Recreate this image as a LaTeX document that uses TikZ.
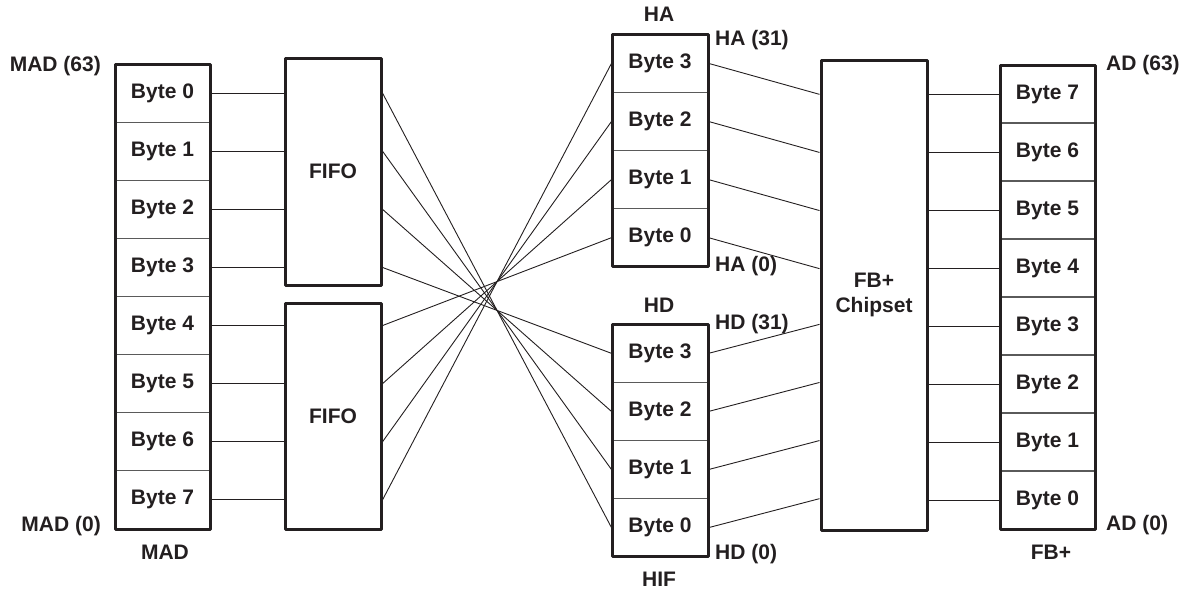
\documentclass[tikz,border=0pt]{standalone}
\usepackage{fontspec}
\setmainfont{Liberation Sans}
\usetikzlibrary{calc}
\definecolor{ink}{RGB}{35,31,32}
\definecolor{divc}{RGB}{90,90,90}
\begin{document}
\begin{tikzpicture}[x=1pt,y=-1pt,
  every node/.style={text=ink,font=\fontsize{21}{24}\selectfont\bfseries,inner sep=0pt},
  cell/.style={draw=divc,line width=1pt,minimum width=95,minimum height=58.1},
  outer/.style={draw=ink,line width=3pt,line join=round},
  wire/.style={draw=ink,line width=0.9pt},
  lbl/.style={}]
\useasboundingbox (0,0) rectangle (1191,592);
% MAD column
\foreach \i in {0,...,7}{
  \node[cell] (m\i) at (162.5,{93.05+58.125*\i}) {Byte \i};
}
\node[outer,minimum width=95,minimum height=465] (mad) at (162.5,296.5) {};
% FIFOs
\node[outer,minimum width=96,minimum height=227] (f1) at (333,171.5) {FIFO};
\node[outer,minimum width=96,minimum height=226] (f2) at (333,416) {FIFO};
% HA column
\foreach \i/\b in {0/3,1/2,2/1,3/0}{
  \node[cell,minimum width=96] (ha\b) at (660,{63.35+58.1*\i}) {Byte \b};
}
\node[outer,minimum width=96,minimum height=232.4] (ha) at (660,150.5) {};
% HD column
\foreach \i/\b in {0/3,1/2,2/1,3/0}{
  \node[cell,minimum width=96] (hd\b) at (660,{353.35+58.1*\i}) {Byte \b};
}
\node[outer,minimum width=96,minimum height=232.4] (hd) at (660,440.5) {};
% Chipset
\node[outer,minimum width=106,minimum height=470,align=center] (chip) at (874,295) {FB+\\[1pt]Chipset};
% FB+ column
\foreach \i/\b in {0/7,1/6,2/5,3/4,4/3,5/2,6/1,7/0}{
  \node[cell] (a\b) at (1047.5,{94+58*\i}) {Byte \b};
}
\node[outer,minimum width=95,minimum height=464] (fb) at (1047.5,297) {};
% labels
\node[anchor=east] (l1) at (101,66) {MAD (63)};
\node[anchor=east] (l2) at (101,526) {MAD (0)};
\node (l3) at (165,552) {MAD};
\node (l4) at (659,14) {HA};
\node[anchor=west] (l5) at (715,40) {HA (31)};
\node[anchor=west] (l6) at (715,266) {HA (0)};
\node (l7) at (659,305) {HD};
\node[anchor=west] (l8) at (715,324) {HD (31)};
\node[anchor=west] (l9) at (715,554) {HD (0)};
\node (l10) at (659,579) {HIF};
\node[anchor=west] (l11) at (1106,65) {AD (63)};
\node[anchor=west] (l12) at (1106,525) {AD (0)};
\node (l13) at (1051,552) {FB+};
% MAD -> FIFO
\foreach \i in {0,...,3}{ \draw[wire] (m\i.east) -- (m\i.east -| f1.west); }
\foreach \i in {4,...,7}{ \draw[wire] (m\i.east) -- (m\i.east -| f2.west); }
% FIFO1 -> HD (crossed)
\foreach \i/\b in {0/0,1/1,2/2,3/3}{ \draw[wire] (m\i.east -| f1.east) -- (hd\b.west); }
% FIFO2 -> HA
\foreach \i/\b in {4/0,5/1,6/2,7/3}{ \draw[wire] (m\i.east -| f2.east) -- (ha\b.west); }
% HA/HD -> chipset
\foreach \b in {0,...,3}{
  \draw[wire] (ha\b.east) -- ($(ha\b.east -| chip.west)+(0,31)$);
  \draw[wire] (hd\b.east) -- ($(hd\b.east -| chip.west)+(0,-29)$);
}
% chipset -> FB+
\foreach \b in {0,...,7}{ \draw[wire] (a\b.west -| chip.east) -- (a\b.west); }
\end{tikzpicture}
\end{document}
